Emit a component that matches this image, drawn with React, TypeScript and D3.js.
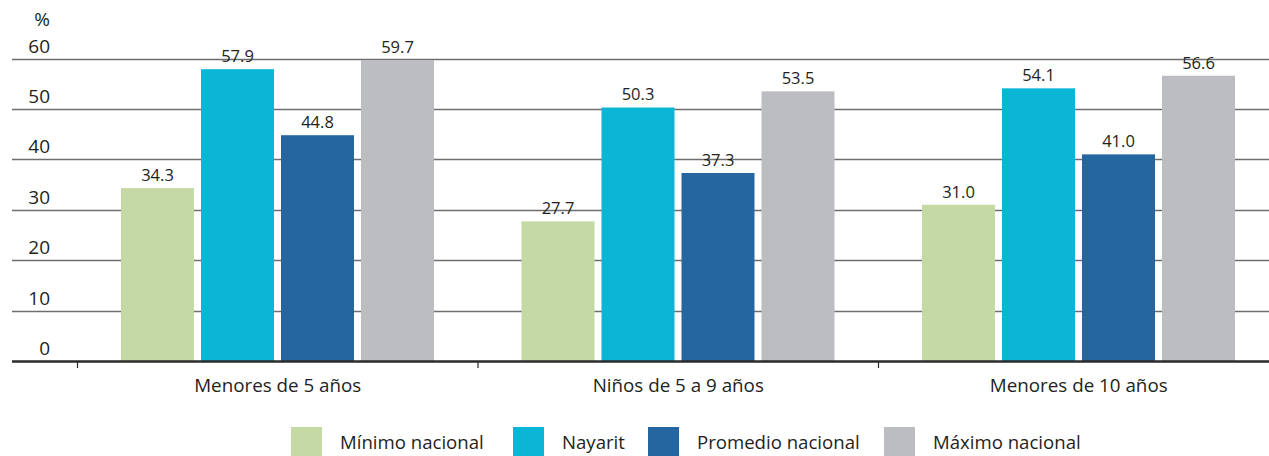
import React from "react";
import * as d3 from "d3";

const categories = ["Menores de 5 años", "Niños de 5 a 9 años", "Menores de 10 años"];
const seriesNames = ["Mínimo nacional", "Nayarit", "Promedio nacional", "Máximo nacional"];
const minimoNacional = [34.3, 27.7, 31.0];
const nayarit = [57.9, 50.3, 54.1];
const promedioNacional = [44.8, 37.3, 41.0];
const maximoNacional = [59.7, 53.5, 56.6];
const yTicks = [0, 10, 20, 30, 40, 50, 60];
const colors = ["#c5d9a5", "#0ab5d5", "#2566a0", "#bcbdc1"];

const W = 1269;
const H = 456;
const FONT = "'Open Sans', 'Noto Sans', sans-serif";

export default function App() {
  const values = [minimoNacional, nayarit, promedioNacional, maximoNacional];
  const x0 = d3.scaleBand<string>().domain(categories).range([77.5, 77.5 + 3 * 400.5]).padding(0);
  const x1 = d3
    .scaleBand<string>()
    .domain(seriesNames)
    .range([43.5, 43.5 + 313])
    .paddingInner(7 / 80)
    .paddingOuter(0);
  const y = d3.scaleLinear().domain([0, 60]).range([361, 58.6]);
  const gridLeft = 12;

  const legendX = [291, 513, 648, 884];
  return (
    <svg
      width={W}
      height={H}
      style={{ position: "absolute", left: 0, top: 0, background: "#fff" }}
      fontFamily={FONT}
    >
      {/* gridlines */}
      {yTicks
        .filter((t) => t > 0)
        .map((t) => (
          <line key={t} x1={gridLeft} x2={W} y1={Math.round(y(t)) + 0.5} y2={Math.round(y(t)) + 0.5} stroke="#6e6e6e" strokeWidth={1.3} />
        ))}
      {/* tick labels */}
      {yTicks.map((t) => (
        <text key={t} x={50} y={y(t) - 6} textAnchor="end" fontSize={19} fill="#231f20">
          {t}
        </text>
      ))}
      <text x={50} y={26} textAnchor="end" fontSize={19} fill="#231f20">
        %
      </text>
      {/* bars */}
      {categories.map((c, ci) => (
        <g key={c} transform={`translate(${x0(c)},0)`}>
          {seriesNames.map((s, si) => {
            const v = values[si][ci];
            const bx = x1(s)!;
            return (
              <g key={s}>
                <rect x={bx} y={y(v)} width={x1.bandwidth()} height={y(0) - y(v)} fill={colors[si]} />
                <text x={bx + x1.bandwidth() / 2} y={y(v) - 7} textAnchor="middle" fontSize={16.5} fill="#231f20">
                  {v.toFixed(1)}
                </text>
              </g>
            );
          })}
        </g>
      ))}
      {/* baseline */}
      <line x1={gridLeft} x2={W} y1={361.5} y2={361.5} stroke="#2b2b2b" strokeWidth={2.5} />
      {/* x ticks */}
      {categories.map((c) => (
        <line key={c} x1={x0(c)!} x2={x0(c)!} y1={362} y2={368} stroke="#2b2b2b" strokeWidth={1.2} />
      ))}
      {categories.map((c) => (
        <text key={c} x={x0(c)! + x0.bandwidth() / 2} y={392} textAnchor="middle" fontSize={18.8} fill="#231f20">
          {c}
        </text>
      ))}
      {/* legend */}
      {seriesNames.map((s, i) => (
        <g key={s}>
          <rect x={legendX[i]} y={427} width={31} height={31} fill={colors[i]} />
          <text x={legendX[i] + 49} y={449} fontSize={18.6} fill="#231f20">
            {s}
          </text>
        </g>
      ))}
    </svg>
  );
}
